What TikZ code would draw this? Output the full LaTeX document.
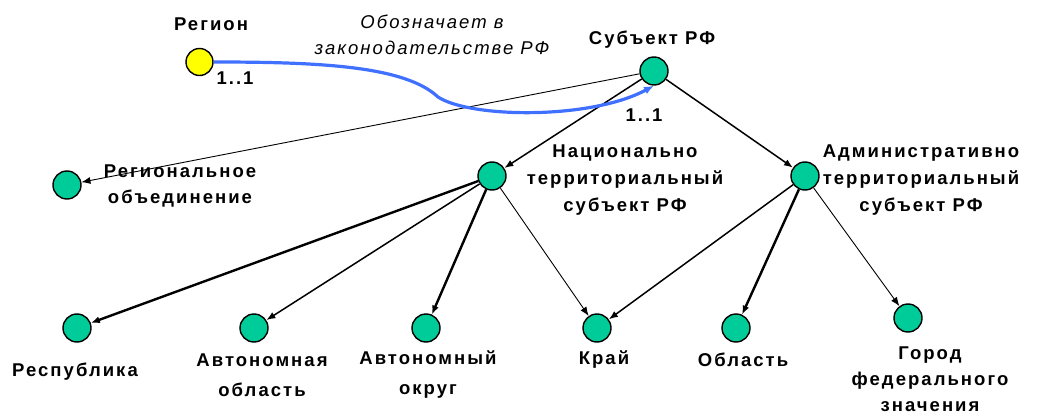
\documentclass[tikz,border=0pt]{standalone}
\usepackage{fontspec}
\setmainfont{Liberation Sans}
\newfontfamily\lblfont[LetterSpace=11]{Liberation Sans}
\usetikzlibrary{arrows.meta}
\definecolor{ngreen}{RGB}{0,204,153}
\definecolor{nyellow}{RGB}{255,255,0}
\definecolor{nblue}{RGB}{64,112,255}
\begin{document}
\begin{tikzpicture}[x=1pt,y=-1pt,
  gnode/.style={circle,draw=black,line width=1.4pt,fill=ngreen,minimum size=28pt,inner sep=0pt},
  ynode/.style={circle,draw=black,line width=1.4pt,fill=nyellow,minimum size=27pt,inner sep=0pt},
  lbl/.style={align=center,inner sep=0pt,font=\lblfont\bfseries\fontsize{18.5}{27}\selectfont},
  ilbl/.style={align=center,inner sep=0pt,font=\lblfont\itshape\fontsize{18.5}{26}\selectfont},
  edge/.style={-{Latex[length=9pt,width=7pt]},black},
  thin edge/.style={edge,line width=0.9pt},
  mid edge/.style={edge,line width=1.5pt},
  thick edge/.style={edge,line width=2.4pt}]
\useasboundingbox (0,0) rectangle (1038,414);
% nodes
\node[ynode] (reg) at (199.5,62) {};
\node[gnode] (subj) at (654,71) {};
\node[gnode] (rob) at (67,185) {};
\node[gnode] (nat) at (492,176) {};
\node[gnode] (adm) at (805,176) {};
\node[gnode] (resp) at (77,328) {};
\node[gnode] (aobl) at (254,328) {};
\node[gnode] (aokr) at (426,328) {};
\node[gnode] (kray) at (597,328) {};
\node[gnode] (obl) at (736,328) {};
\node[gnode] (gor) at (908,318) {};
% labels
\node[lbl] (treg) at (211,24) {Регион};
\node[lbl] (tsubj) at (652,40) {Субъект РФ};
\node[lbl] (tone1) at (235,78) {1..1};
\node[lbl] (tone2) at (644,115) {1..1};
\node[ilbl] (tdes) at (432,35) {Обозначает в\\законодательстве РФ};
\node[lbl,font=\lblfont\bfseries\fontsize{18.5}{26}\selectfont] (trob) at (180,186) {Региональное\\объединение};
\node[lbl] (tnat) at (625,180) {Национально\\территориальный\\субъект РФ};
\node[lbl] (tadm) at (921,180) {Административно\\территориальный\\субъект РФ};
\node[lbl] (tresp) at (75,372) {Республика};
\node[lbl,font=\lblfont\bfseries\fontsize{18.5}{30}\selectfont] (taobl) at (262,375) {Автономная\\область};
\node[lbl,font=\lblfont\bfseries\fontsize{18.5}{30}\selectfont] (taokr) at (428,375) {Автономный\\округ};
\node[lbl] (tkray) at (604,360) {Край};
\node[lbl] (tobl) at (743,360) {Область};
\node[lbl,font=\lblfont\bfseries\fontsize{18.5}{26}\selectfont] (tgor) at (930,379) {Город\\федерального\\значения};
% edges
\draw[thin edge] (subj) -- (rob);
\draw[mid edge] (subj) -- (nat);
\draw[mid edge] (subj) -- (adm);
\draw[thick edge] (nat) -- (resp);
\draw[mid edge] (nat) -- (aobl);
\draw[thick edge] (nat) -- (aokr);
\draw[thin edge] (nat) -- (kray);
\draw[mid edge] (adm) -- (kray);
\draw[thick edge] (adm) -- (obl);
\draw[thin edge] (adm) -- (gor);
% blue relation
\coordinate (bmid) at (438,97);
\draw[nblue,line width=3.2pt,-{Latex[length=10pt,width=8pt]}]
  (reg.east) .. controls (320,62) and (405,66) .. (bmid)
  .. controls (470,118) and (590,120) .. (subj.south);
\end{tikzpicture}
\end{document}
